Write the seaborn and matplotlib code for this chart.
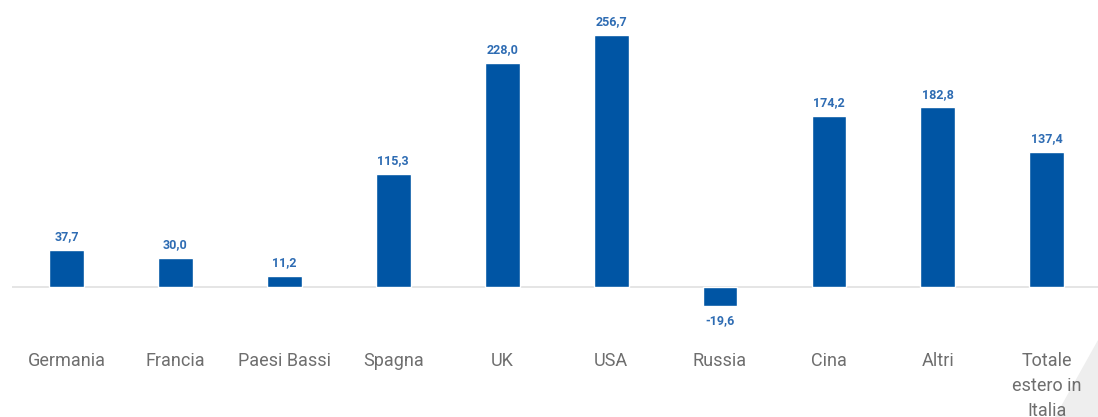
import matplotlib
matplotlib.use("Agg")
import matplotlib.pyplot as plt
import seaborn as sns
import pandas as pd
from matplotlib.patches import Polygon

categories = ["Germania", "Francia", "Paesi Bassi", "Spagna", "UK", "USA",
              "Russia", "Cina", "Altri", "Totale\nestero in\nItalia"]
values = [37.7, 30.0, 11.2, 115.3, 228.0, 256.7, -19.6, 174.2, 182.8, 137.4]
value_labels = ["37,7", "30,0", "11,2", "115,3", "228,0", "256,7",
                "-19,6", "174,2", "182,8", "137,4"]

sns.set_theme(style="white")
plt.rcParams['font.family'] = ['Roboto', 'DejaVu Sans']

BAR = "#0055A4"
VAL = "#2E6CB3"
GRAY = "#6E6E6E"

W, H = 1098, 417
fig = plt.figure(figsize=(W / 100, H / 100), dpi=100)
fig.patch.set_facecolor("white")

# decorative light-gray triangle bottom-right
tri = Polygon([(1.0, (417 - 340) / 417), (1.0, 0.0), (1055 / W, 0.0)],
              closed=True, transform=fig.transFigure, facecolor="#EEEEEE",
              edgecolor="none", zorder=0)
fig.patches.append(tri)

ax = fig.add_axes([12 / W, 0, 1 - 12 / W, 1])
ax.set_facecolor("none")
ax.set_zorder(2)

df = pd.DataFrame({"cat": categories, "val": values})
sns.barplot(data=df, x="cat", y="val", color=BAR, width=0.32, ax=ax,
            saturation=1, zorder=3)

ppu = 0.982  # pixels per unit
base_px = 287
ax.set_ylim(-(H - base_px) / ppu, base_px / ppu)
ax.set_xlim(-0.5, 9.47)

ax.axhline(0, color="#E3E3E3", lw=1.3, zorder=2)

for sp in ax.spines.values():
    sp.set_visible(False)
ax.set_xticks([])
ax.set_yticks([])
ax.set_xlabel("")
ax.set_ylabel("")

for i, (v, lab) in enumerate(zip(values, value_labels)):
    off = 9.5 if v >= 0 else -10.5
    ax.annotate(lab, (i, v), xytext=(0, off), textcoords="offset points",
                ha="center", va="center", fontsize=9, color=VAL,
                fontweight="semibold")

label_top = (base_px - 352) / ppu
for i, c in enumerate(categories):
    ax.text(i, label_top, c, ha="center", va="top", fontsize=13,
            color=GRAY, linespacing=1.5)

fig.savefig("out.png", dpi=100, facecolor="white")
